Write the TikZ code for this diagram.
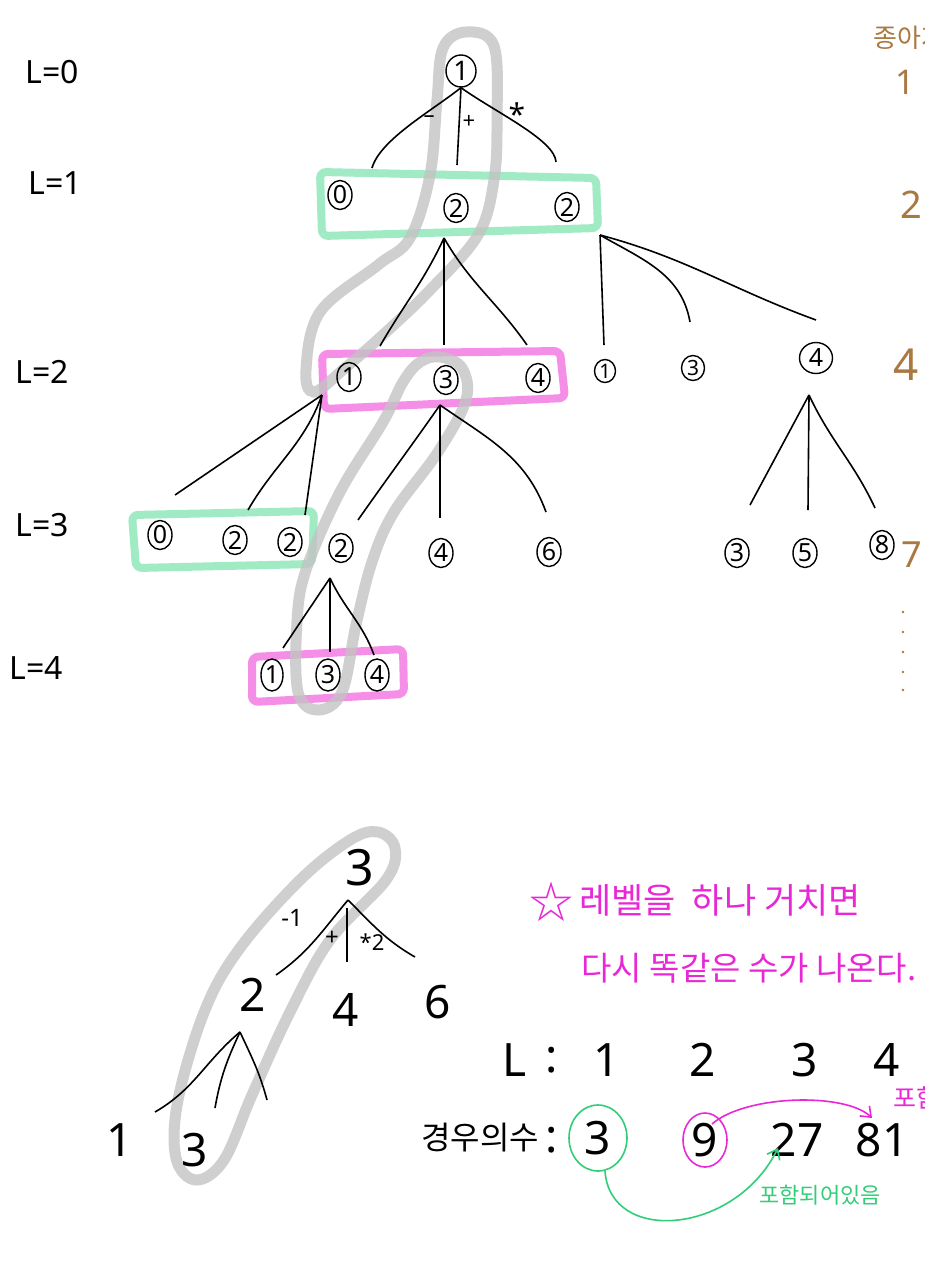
\documentclass[tikz,border=0pt]{standalone}
\usepackage{fontspec}
\setmainfont{Noto Sans}
\newfontfamily\kr{Noto Sans CJK KR}
\usetikzlibrary{arrows.meta,shapes.geometric}
\definecolor{hlgreen}{RGB}{150,232,190}
\definecolor{hlpink}{RGB}{244,130,228}
\definecolor{hlgrey}{RGB}{195,195,195}
\definecolor{inkpink}{RGB}{232,40,214}
\definecolor{inkgreen}{RGB}{50,205,120}
\definecolor{inkbrown}{RGB}{170,120,65}
\begin{document}
\begin{tikzpicture}[x=1pt,y=-1pt,
  cn/.style={draw, ellipse, line width=1.4pt, inner sep=0pt, minimum width=24pt, minimum height=29pt, font=\fontsize{25}{25}\selectfont},
  tedge/.style={line width=1.6pt},
  lvl/.style={font=\fontsize{32}{34}\selectfont},
  hlg/.style={draw=hlgreen, line width=8pt, rounded corners=6pt, opacity=0.9},
  hlp/.style={draw=hlpink, line width=8pt, rounded corners=6pt, opacity=0.9},
  lasso/.style={draw=hlgrey, line width=11pt, opacity=0.8},
  big/.style={font=\fontsize{46}{48}\selectfont},
  brn/.style={text=inkbrown},
]
\useasboundingbox[fill=white] (0,0) rectangle (924,1280);

% highlight boxes
\draw[hlg] (320,172) -- (596,178) -- (598,228) -- (322,236) -- cycle;
\draw[hlp] (322,354) -- (560,351) -- (565,398) -- (324,409) -- cycle;
\draw[hlg] (132,515) -- (314,511) -- (312,564) -- (136,568) -- cycle;
\draw[hlp] (252,657) -- (403,649) -- (404,694) -- (252,702) -- cycle;

% grey lassos
\draw[lasso] plot[smooth cycle, tension=0.6] coordinates {(466,32) (494,46) (497,120) (494,180) (478,235) (430,290) (385,333) (345,368) (314,392) (306,370) (320,312) (378,265) (410,238) (430,175) (437,100) (443,48)};
\draw[lasso] plot[smooth cycle, tension=0.6] coordinates {(440,357) (462,368) (466,400) (438,452) (394,512) (372,562) (356,625) (342,692) (318,710) (298,692) (297,622) (306,570) (340,492) (383,422) (403,382) (420,362)};
\draw[lasso] plot[smooth cycle, tension=0.6] coordinates {(378,832) (395,848) (386,880) (330,940) (290,1012) (252,1095) (224,1160) (196,1180) (176,1158) (178,1100) (205,1010) (240,948) (300,880) (350,840)};

% level labels
\node[lvl] (l0) at (52,72) {L=0};
\node[lvl] (l1) at (55,183) {L=1};
\node[lvl] (l2) at (42,372) {L=2};
\node[lvl] (l3) at (42,525) {L=3};
\node[lvl] (l4) at (36,668) {L=4};

% top tree nodes
\node[cn, minimum width=30pt, minimum height=32pt, font=\fontsize{27}{27}\selectfont] (r) at (461,71) {1};
\node[cn] (a0) at (340,195) {0};
\node[cn] (a1) at (456,208) {2};
\node[cn] (a2) at (567,207) {2};

\node[cn] (b1) at (349,377) {1};
\node[cn] (b2) at (446,380) {3};
\node[cn] (b3) at (538,378) {4};
\node[cn, minimum width=21pt, minimum height=23pt, font=\fontsize{20}{20}\selectfont] (b4) at (605,371) {1};
\node[cn, minimum width=23pt, minimum height=25pt, font=\fontsize{21}{21}\selectfont] (b5) at (693,368) {3};
\node[cn, minimum width=33pt, minimum height=31pt] (b6) at (816,358) {4};

\node[cn] (d1) at (160,535) {0};
\node[cn] (d2) at (235,540) {2};
\node[cn] (d3) at (290,542) {2};
\node[cn] (d4) at (341,548) {2};
\node[cn] (d5) at (441,553) {4};
\node[cn] (d6) at (549,552) {6};
\node[cn] (d7) at (737,553) {3};
\node[cn] (d8) at (805,553) {5};
\node[cn] (d9) at (882,545) {8};

\node[cn, minimum width=22pt, minimum height=32pt] (e1) at (272,675) {1};
\node[cn, minimum width=24pt, minimum height=32pt] (e2) at (328,675) {3};
\node[cn, minimum width=24pt, minimum height=32pt] (e3) at (377,675) {4};

% root edges
\coordinate (t1) at (372,168);
\coordinate (t2) at (457,165);
\coordinate (t3) at (556,162);
\draw[tedge] (r.south) .. controls (430,112) and (380,140) .. (t1);
\draw[tedge] (r.south) -- (t2);
\draw[tedge] (r.south) .. controls (495,112) and (555,140) .. (t3);
\node[font=\fontsize{22}{22}\selectfont] (om) at (429,119) {–};
\node[font=\fontsize{22}{22}\selectfont] (op) at (469,122) {+};
\node[font=\fontsize{30}{30}\selectfont] (ot) at (517,114) {*};

% L1 -> L2
\coordinate (f1) at (444,238);
\coordinate (c1) at (380,346);
\coordinate (c2) at (444,345);
\coordinate (c3) at (527,345);
\draw[tedge] (f1) to[out=-115,in=60] (c1);
\draw[tedge] (f1) -- (c2);
\draw[tedge] (f1) to[out=-60,in=125] (c3);
\coordinate (f2) at (600,235);
\coordinate (c4) at (604,345);
\coordinate (c5) at (690,322);
\coordinate (c6) at (816,320);
\draw[tedge] (f2) -- (c4);
\draw[tedge] (f2) to[out=-30,in=100] (c5);
\draw[tedge] (f2) to[out=-15,in=160] (c6);

% L2 -> L3
\coordinate (g1) at (322,395);
\coordinate (s1) at (175,495);
\coordinate (s2) at (248,510);
\coordinate (s3) at (305,515);
\draw[tedge] (g1) -- (s1);
\draw[tedge] (g1) to[out=-110,in=60] (s2);
\draw[tedge] (g1) -- (s3);
\coordinate (g2) at (440,405);
\coordinate (s4) at (358,520);
\coordinate (s5) at (440,518);
\coordinate (s6) at (546,512);
\draw[tedge] (g2) to[out=-125,in=55] (s4);
\draw[tedge] (g2) -- (s5);
\draw[tedge] (g2) to[out=-35,in=110] (s6);
\coordinate (g3) at (809,395);
\coordinate (s7) at (750,505);
\coordinate (s8) at (808,510);
\coordinate (s9) at (875,508);
\draw[tedge] (g3) -- (s7);
\draw[tedge] (g3) -- (s8);
\draw[tedge] (g3) to[out=-65,in=115] (s9);

% L3 -> L4
\coordinate (g4) at (330,578);
\coordinate (u1) at (283,648);
\coordinate (u2) at (330,652);
\coordinate (u3) at (374,655);
\draw[tedge] (g4) -- (u1);
\draw[tedge] (g4) -- (u2);
\draw[tedge] (g4) to[out=-65,in=110] (u3);

% right brown column
\node[brn, font=\kr\fontsize{26}{26}\selectfont, anchor=west] (hd) at (870,38) {종아지};
\node[brn, font=\fontsize{34}{34}\selectfont] (k1) at (905,82) {1};
\node[brn, font=\fontsize{38}{38}\selectfont] (k2) at (911,205) {2};
\node[brn, font=\fontsize{44}{44}\selectfont] (k4) at (906,365) {4};
\node[brn, font=\fontsize{36}{36}\selectfont] (k7) at (912,555) {7};
\foreach \yy in {612,632,652,672,690} \fill[inkbrown] (903,\yy) circle (1.3pt);

% bottom tree
\node[font=\fontsize{50}{50}\selectfont] (B3) at (360,868) {3};
\coordinate (h0) at (348,900);
\coordinate (h1) at (276,975);
\coordinate (h2a) at (347,908);
\coordinate (h2) at (347,962);
\coordinate (h3) at (415,957);
\draw[tedge] (h0) to[out=-130,in=35] (h1);
\draw[tedge] (h2a) -- (h2);
\draw[tedge] (h0) to[out=-45,in=150] (h3);
\node[font=\fontsize{24}{24}\selectfont] (m1) at (292,918) {-1};
\node[font=\fontsize{24}{24}\selectfont] (m2) at (332,938) {+};
\node[font=\fontsize{22}{22}\selectfont] (m3) at (372,942) {*2};
\node[big] (B2) at (253,995) {2};
\node[big] (B4) at (346,1010) {4};
\node[big] (B6) at (438,1002) {6};
\coordinate (h4) at (240,1032);
\coordinate (h5) at (155,1112);
\coordinate (h6) at (215,1108);
\coordinate (h7) at (267,1100);
\draw[tedge] (h4) to[out=-140,in=30] (h5);
\draw[tedge] (h4) to[out=-115,in=80] (h6);
\draw[tedge] (h4) to[out=-65,in=105] (h7);
\node[big] (B1) at (120,1140) {1};
\node[big] (B3b) at (195,1150) {3};

% pink note
\node[text=inkpink, font=\kr\fontsize{44}{44}\selectfont] (star) at (551,902) {☆};
\node[anchor=west, text=inkpink, font=\kr\fontsize{35}{35}\selectfont] (note1) at (576,900) {레벨을~~하나~거치면};
\node[anchor=west, text=inkpink, font=\kr\fontsize{33}{33}\selectfont] (note2) at (578,968) {다시 똑같은 수가 나온다.};

% L row
\node[big] (qL) at (515,1060) {L};
\node[big] (qc) at (552,1060) {:};
\node[big] (q1) at (607,1060) {1};
\node[big] (q2) at (703,1060) {2};
\node[big] (q3) at (805,1060) {3};
\node[big] (q4) at (887,1060) {4};

% counts row
\node[font=\kr\fontsize{32}{32}\selectfont] (cw) at (480,1138) {경우의수};
\node[big] (cc) at (552,1140) {:};
\node[big] (n3) at (598,1138) {3};
\draw[inkgreen, line width=1.6pt] (n3) ellipse (29pt and 33pt);
\node[big] (n9) at (705,1140) {9};
\draw[inkpink, line width=1.6pt] (n9) ellipse (22pt and 27pt);
\node[big] (n27) at (797,1140) {27};
\node[big] (n81) at (882,1140) {81};

\coordinate (ma) at (712,1124);
\coordinate (mb) at (872,1118);
\draw[inkpink, line width=1.6pt, -{Straight Barb[length=9pt,width=14pt]}] (ma) .. controls (745,1095) and (845,1092) .. (mb);
\node[text=inkpink, font=\kr\fontsize{25}{25}\selectfont, anchor=west] (lp) at (890,1098) {포함};

\coordinate (ga) at (605,1171);
\coordinate (gb) at (778,1148);
\draw[inkgreen, line width=1.6pt, -{Straight Barb[length=9pt,width=14pt]}] (ga) .. controls (610,1245) and (735,1235) .. (gb);
\node[text=inkgreen, font=\kr\fontsize{22}{22}\selectfont] (lg) at (820,1195) {포함되어있음};
\end{tikzpicture}
\end{document}
